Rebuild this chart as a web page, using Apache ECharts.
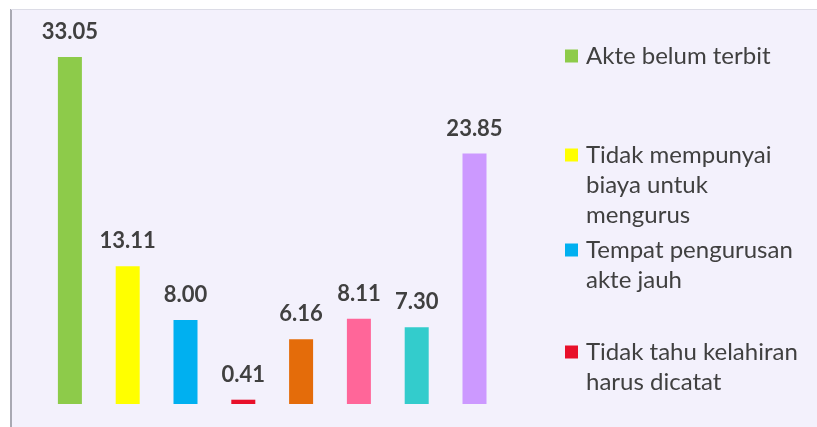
<!DOCTYPE html>
<html>
<head>
<meta charset="utf-8">
<script src="https://cdn.jsdelivr.net/npm/echarts@6/dist/echarts.min.js"></script>
<style>
  html, body { margin: 0; padding: 0; background: #fff; }
  #bar_chart { width: 817px; height: 427px; }
</style>
</head>
<body>
<div id="bar_chart"></div>
<script>
// alasan (reasons), in drawing order
const categories = [
  "Akte belum terbit",
  "Tidak mempunyai\nbiaya untuk\nmengurus",
  "Tempat pengurusan\nakte jauh",
  "Tidak tahu kelahiran\nharus dicatat",
  "Alasan 5",
  "Alasan 6",
  "Alasan 7",
  "Alasan 8",
];
const values = [33.05, 13.11, 8.0, 0.41, 6.16, 8.11, 7.3, 23.85];
const colorList = ["#8dcb4a", "#ffff00", "#00b0f0", "#e8102a", "#e46c0a", "#ff6699", "#33cccc", "#cc99ff"];
// only the first four show up in the legend
const legendTops = [41, 80, 205, 307];

const chart = echarts.init(document.getElementById("bar_chart"));

// one series per bar so each gets its own legend entry
const series = categories.map((name, i) => ({
  name: name,
  type: "bar",
  stack: "all",
  barWidth: 24,
  data: values.map((v, j) => (j === i ? v : "-")),
  itemStyle: { color: colorList[i] },
  label: {
    show: true,
    position: "top",
    distance: 14,
    formatter: (p) => p.value.toFixed(2),
    fontFamily: "Lato",
    fontSize: 22,
    fontWeight: "bold",
    color: "#404040",
  },
}));

// blank lines in front keep the icon level with the first text line
const legends = legendTops.map((top, i) => {
  const lines = categories[i].split("\n").length;
  return {
    data: [categories[i]],
    left: 565,
    top: top,
    padding: 0,
    icon: "rect",
    itemWidth: 13,
    itemHeight: 13,
    selectedMode: false,
    formatter: (name) => "\n".repeat(lines - 1) + name,
    textStyle: {
      fontFamily: "Lato",
      fontSize: 24,
      lineHeight: 30,
      color: "#404040",
      padding: [0, 0, 0, 3],
    },
  };
});

const option = {
  backgroundColor: "#fff",
  animation: false,
  graphic: [
    {
      type: "rect",
      shape: { x: 11, y: 9, width: 806, height: 418 },
      style: { fill: "#f3f1fc" },
      z: -10,
    },
    {
      type: "line",
      shape: { x1: 11, y1: 9, x2: 11, y2: 427 },
      style: { stroke: "#a9a9b3", lineWidth: 2 },
      z: -9,
    },
    {
      type: "line",
      shape: { x1: 11, y1: 9.5, x2: 817, y2: 9.5 },
      style: { stroke: "#dcdce6", lineWidth: 1 },
      z: -9,
    },
  ],
  legend: legends,
  grid: { left: 41, top: 36.5, width: 462.4, bottom: 23 },
  xAxis: {
    type: "category",
    data: categories,
    show: false,
  },
  yAxis: {
    type: "value",
    min: 0,
    max: 35,
    show: false,
  },
  series: series,
};

chart.setOption(option);
</script>
</body>
</html>
